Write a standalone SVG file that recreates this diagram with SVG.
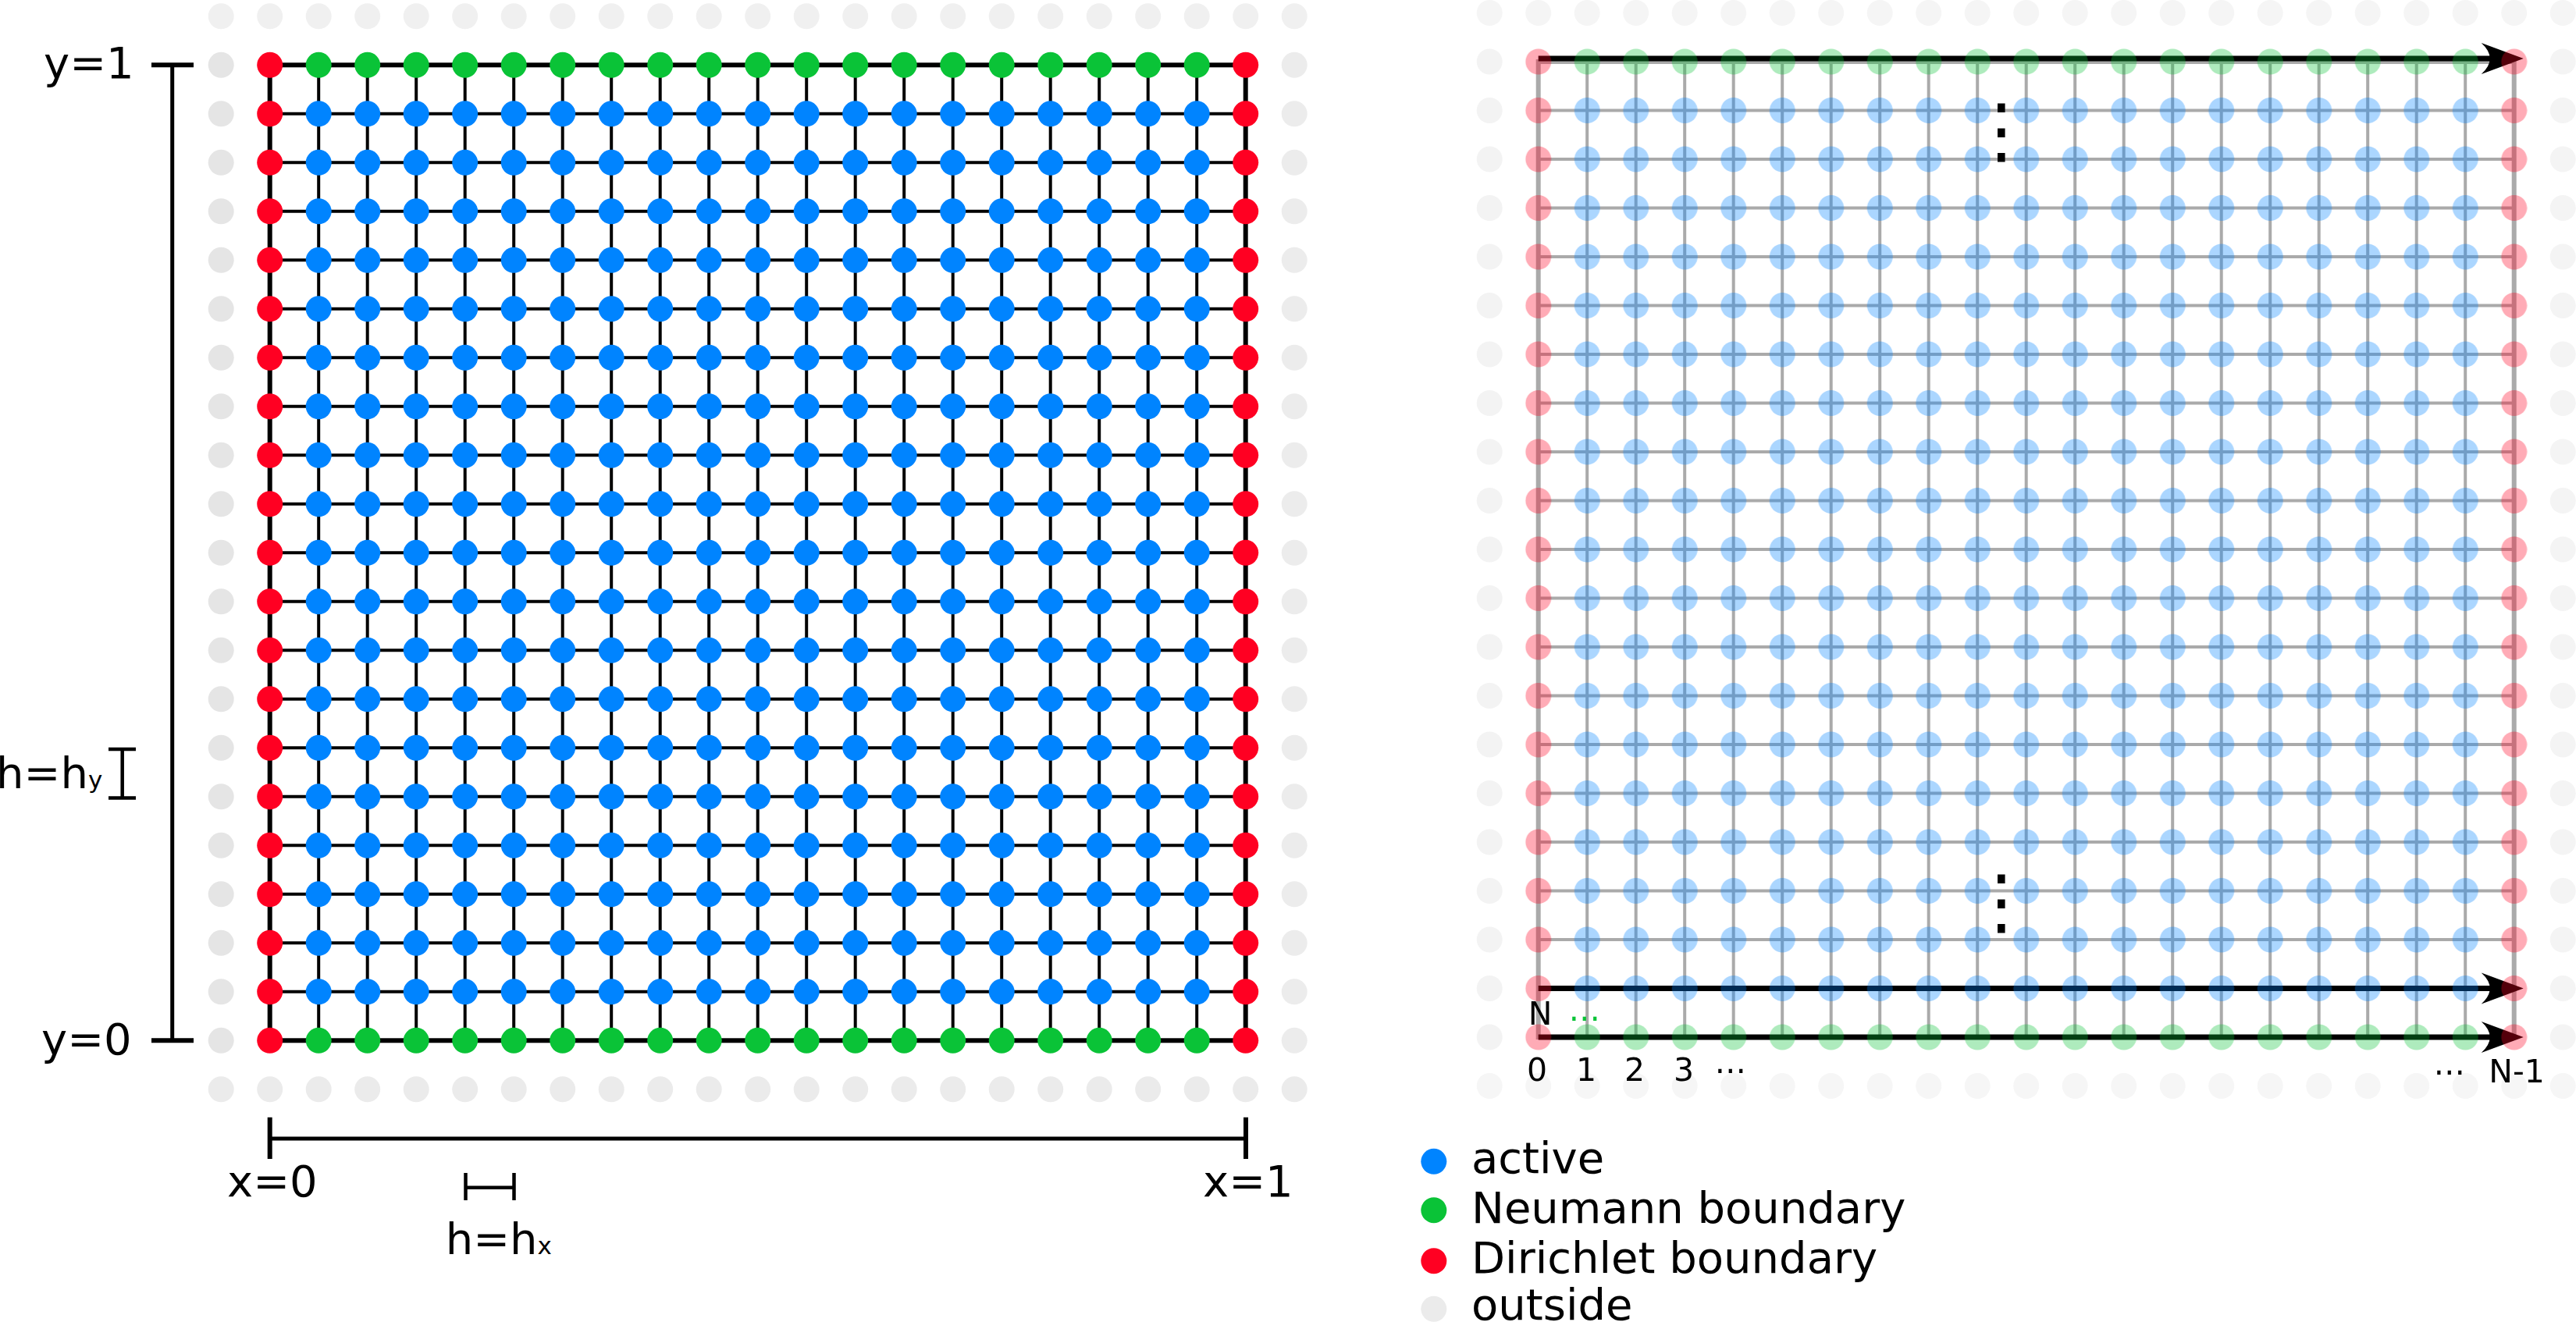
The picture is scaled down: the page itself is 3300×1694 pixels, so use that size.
<svg xmlns="http://www.w3.org/2000/svg" width="3300" height="1694" viewBox="0 0 3300 1694">
<style>
text{font-family:"DejaVu Sans","Liberation Sans",sans-serif;fill:#000}
.lbl{font-size:56px}
.sub{font-size:31px}
.idx{font-size:41px}
.leg{font-size:56px}
.ax{stroke:#000;stroke-width:5;fill:none}
.tk{stroke:#000;stroke-width:6;fill:none}
.br{stroke:#000;stroke-width:4.5;fill:none}
.inner{stroke:#000;stroke-width:4;fill:none}
.bound{stroke:#000;stroke-width:6;fill:none}
.arr{stroke:#000;stroke-width:7;fill:none;marker-end:url(#head)}
.blue{fill:#0084ff}
.green{fill:#0ac337}
.red{fill:#ff0022}
</style>
<defs>
<circle id="d" r="16.5"/>
<g id="r19">
<use href="#d" x="62.5"/><use href="#d" x="125"/><use href="#d" x="187.5"/><use href="#d" x="250"/><use href="#d" x="312.5"/><use href="#d" x="375"/><use href="#d" x="437.5"/><use href="#d" x="500"/><use href="#d" x="562.5"/><use href="#d" x="625"/><use href="#d" x="687.5"/><use href="#d" x="750"/><use href="#d" x="812.5"/><use href="#d" x="875"/><use href="#d" x="937.5"/><use href="#d" x="1000"/><use href="#d" x="1062.5"/><use href="#d" x="1125"/><use href="#d" x="1187.5"/>
</g>
<g id="r23"><use href="#d" x="-62.5"/><use href="#d"/><use href="#r19"/><use href="#d" x="1250"/><use href="#d" x="1312.5"/></g>
<g id="c21">
<use href="#d"/><use href="#d" y="62.5"/><use href="#d" y="125"/><use href="#d" y="187.5"/><use href="#d" y="250"/><use href="#d" y="312.5"/><use href="#d" y="375"/><use href="#d" y="437.5"/><use href="#d" y="500"/><use href="#d" y="562.5"/><use href="#d" y="625"/><use href="#d" y="687.5"/><use href="#d" y="750"/><use href="#d" y="812.5"/><use href="#d" y="875"/><use href="#d" y="937.5"/><use href="#d" y="1000"/><use href="#d" y="1062.5"/><use href="#d" y="1125"/><use href="#d" y="1187.5"/><use href="#d" y="1250"/>
</g>
<g id="blk">
<use href="#r19" y="62.5"/><use href="#r19" y="125"/><use href="#r19" y="187.5"/><use href="#r19" y="250"/><use href="#r19" y="312.5"/><use href="#r19" y="375"/><use href="#r19" y="437.5"/><use href="#r19" y="500"/><use href="#r19" y="562.5"/><use href="#r19" y="625"/><use href="#r19" y="687.5"/><use href="#r19" y="750"/><use href="#r19" y="812.5"/><use href="#r19" y="875"/><use href="#r19" y="937.5"/><use href="#r19" y="1000"/><use href="#r19" y="1062.5"/><use href="#r19" y="1125"/><use href="#r19" y="1187.5"/>
</g>
<path id="gl" d="M0 62.5H1250M0 125H1250M0 187.5H1250M0 250H1250M0 312.5H1250M0 375H1250M0 437.5H1250M0 500H1250M0 562.5H1250M0 625H1250M0 687.5H1250M0 750H1250M0 812.5H1250M0 875H1250M0 937.5H1250M0 1000H1250M0 1062.5H1250M0 1125H1250M0 1187.5H1250M62.5 0V1250M125 0V1250M187.5 0V1250M250 0V1250M312.5 0V1250M375 0V1250M437.5 0V1250M500 0V1250M562.5 0V1250M625 0V1250M687.5 0V1250M750 0V1250M812.5 0V1250M875 0V1250M937.5 0V1250M1000 0V1250M1062.5 0V1250M1125 0V1250M1187.5 0V1250"/>
<marker id="head" markerUnits="userSpaceOnUse" markerWidth="54" markerHeight="40" viewBox="0 -20 54 40" refX="14" refY="0" orient="auto" overflow="visible"><path d="M0 -20L54 0L0 20Q22 0 0 -20Z" fill="#000"/></marker>
</defs>

<!-- LEFT GRID -->
<g id="left-grid" transform="translate(345.7 83.3)">
<g id="left-outside">
<use href="#r23" y="-62.5" fill="#f0f0f0"/>
<use href="#r23" y="1312.5" fill="#ebebeb"/>
<use href="#c21" x="-62.5" fill="#e5e5e5"/>
<use href="#c21" x="1312.5" fill="#ececec"/>
</g>
<g id="left-lines">
<use href="#gl" class="inner"/>
<rect width="1250" height="1250" class="bound"/>
</g>
<g id="left-active" class="blue"><use href="#blk"/></g>
<g id="left-neumann" class="green"><use href="#r19"/><use href="#r19" y="1250"/></g>
<g id="left-dirichlet" class="red"><use href="#c21"/><use href="#c21" x="1250"/></g>
</g>

<!-- AXES -->
<g id="y-axis">
<path class="ax" d="M220.7 83.3V1333.3"/>
<path class="tk" d="M194 83.3H248M194 1333.3H248"/>
<text class="lbl" x="56" y="100">y=1</text>
<text class="lbl" x="53" y="1351">y=0</text>
</g>
<g id="x-axis">
<path class="ax" d="M345.7 1459H1596"/>
<path class="tk" d="M345.7 1431.7V1485M1596 1431.7V1485"/>
<text class="lbl" x="291" y="1533">x=0</text>
<text class="lbl" x="1541" y="1533">x=1</text>
</g>
<g id="hy">
<path class="br" d="M156.7 960V1022.5M139 960H174M139 1022.5H174"/>
<text class="lbl" x="-5" y="1010">h=h<tspan class="sub">y</tspan></text>
</g>
<g id="hx">
<path class="br" d="M596.5 1521.7H658.5M596.5 1503V1538M658.5 1503V1538"/>
<text class="lbl" x="570.7" y="1606.7">h=h<tspan class="sub">x</tspan></text>
</g>

<!-- RIGHT GRID -->
<g id="right-outside" transform="translate(1970.7 79)">
<use href="#r23" y="-62.5" fill="#f5f5f5"/>
<use href="#r23" y="1312.5" fill="#f6f6f6"/>
<use href="#c21" x="-62.5" fill="#f3f3f3"/>
<use href="#c21" x="1312.5" fill="#f4f4f4"/>
</g>
<g id="right-lines" transform="translate(1970.7 79)" opacity="0.33">
<use href="#gl" class="inner"/>
<rect width="1250" height="1250" class="bound"/>
</g>
<g id="connectors">
<path class="arr" d="M1970.7 75H3192.7"/>
<path class="arr" d="M1970.7 1266.5H3192.7"/>
<path class="arr" d="M1970.7 1329H3192.7"/>
</g>
<g id="right-dots" transform="translate(1970.7 79)" opacity="0.33">
<g class="blue"><use href="#blk"/></g>
<g class="green"><use href="#r19"/><use href="#r19" y="1250"/></g>
<g class="red"><use href="#c21"/><use href="#c21" x="1250"/></g>
</g>
<g id="right-labels">
<text x="2564" y="199" style="font-size:93px" text-anchor="middle">⋮</text>
<text x="2564" y="1187" style="font-size:93px" text-anchor="middle">⋮</text>
<text class="idx" x="1973" y="1313" text-anchor="middle">N</text>
<text class="idx" x="2030" y="1318" text-anchor="middle" style="fill:#0ac337">⋯</text>
<text class="idx" x="1969" y="1385" text-anchor="middle">0</text>
<text class="idx" x="2032" y="1385" text-anchor="middle">1</text>
<text class="idx" x="2094" y="1385" text-anchor="middle">2</text>
<text class="idx" x="2157" y="1385" text-anchor="middle">3</text>
<text class="idx" x="2217" y="1385" text-anchor="middle">⋯</text>
<text class="idx" x="3138" y="1387" text-anchor="middle">⋯</text>
<text class="idx" x="3224" y="1387" text-anchor="middle">N-1</text>
</g>

<!-- LEGEND -->
<g id="legend">
<circle cx="1836.8" cy="1488.3" r="16.5" class="blue"/>
<circle cx="1836.8" cy="1550.7" r="16.5" class="green"/>
<circle cx="1836.8" cy="1615.7" r="16.5" class="red"/>
<circle cx="1836.8" cy="1677.3" r="16.5" fill="#ebebeb"/>
<text class="leg" x="1885" y="1503.3">active</text>
<text class="leg" x="1885" y="1566.7">Neumann boundary</text>
<text class="leg" x="1885" y="1630.7">Dirichlet boundary</text>
<text class="leg" x="1885" y="1690.5">outside</text>
</g>
</svg>
